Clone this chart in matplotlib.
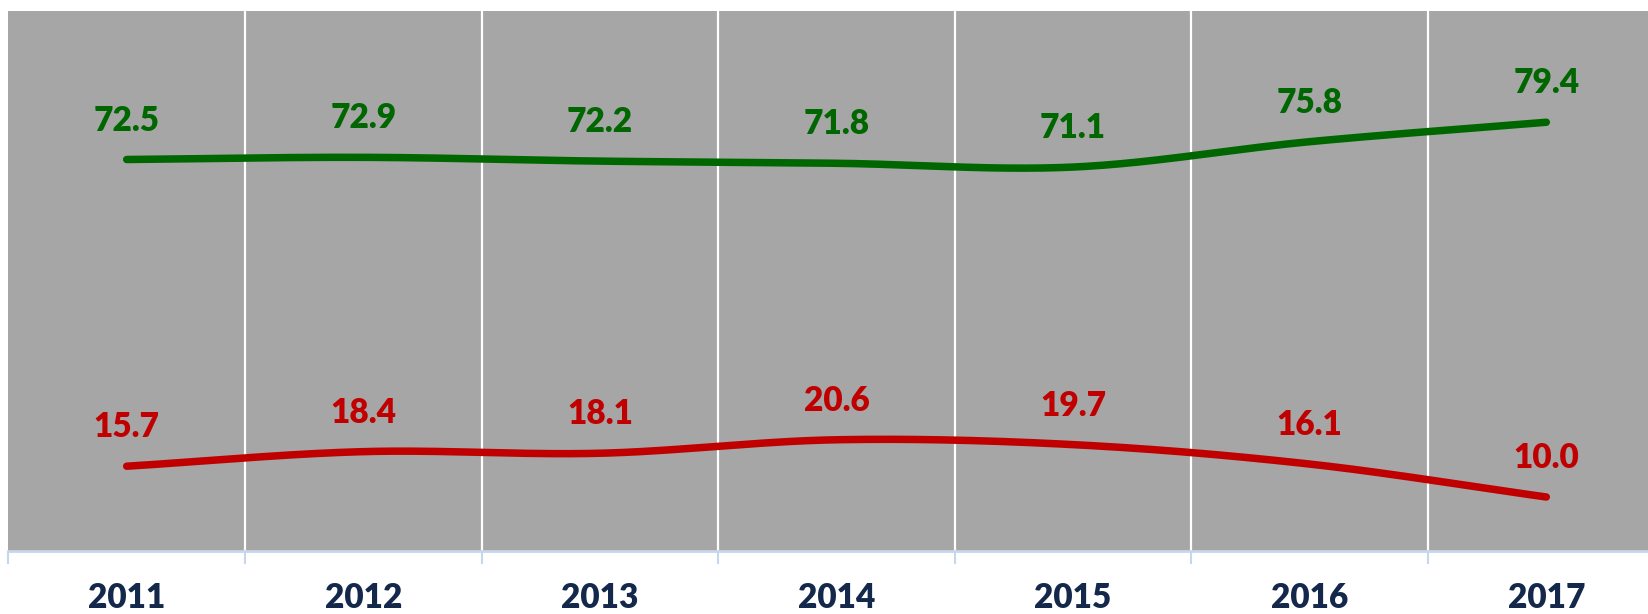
import numpy as np
import matplotlib
matplotlib.use("Agg")
import matplotlib.pyplot as plt
import matplotlib.transforms as mtrans

years = ["2011", "2012", "2013", "2014", "2015", "2016", "2017"]
green_vals = [72.5, 72.9, 72.2, 71.8, 71.1, 75.8, 79.4]
red_vals = [15.7, 18.4, 18.1, 20.6, 19.7, 16.1, 10.0]

GREEN = "#006600"
RED = "#c00000"
GRAY = "#a6a6a6"
NAVY = "#14284b"
AXBLUE = "#c6d6ec"

W, H = 1648, 614
fig = plt.figure(figsize=(W / 100, H / 100), dpi=100)
fig.patch.set_facecolor("white")

left_px, top_px, bottom_px = 8.4, 11, 551
cat_w = 236.6
ax_w = cat_w * 7
ax = fig.add_axes([left_px / W, (H - bottom_px) / H, ax_w / W, (bottom_px - top_px) / H])
ax.set_facecolor(GRAY)
ax.set_xlim(-0.5, 6.5)
ax.set_ylim(0, 100)


def catmull(xs, ys, n=40):
    xs = np.asarray(xs, float)
    ys = np.asarray(ys, float)
    px = np.concatenate([[2 * xs[0] - xs[1]], xs, [2 * xs[-1] - xs[-2]]])
    py = np.concatenate([[2 * ys[0] - ys[1]], ys, [2 * ys[-1] - ys[-2]]])
    ox, oy = [], []
    t = np.linspace(0, 1, n)
    for i in range(1, len(px) - 2):
        p0, p1, p2, p3 = [np.array([px[j], py[j]]) for j in (i - 1, i, i + 1, i + 2)]
        tt = t[:, None]
        pts = 0.5 * ((2 * p1) + (-p0 + p2) * tt + (2 * p0 - 5 * p1 + 4 * p2 - p3) * tt ** 2
                     + (-p0 + 3 * p1 - 3 * p2 + p3) * tt ** 3)
        if i > 1:
            pts = pts[1:]
        ox.extend(pts[:, 0])
        oy.extend(pts[:, 1])
    return np.array(ox), np.array(oy)


x = np.arange(len(years))
for b in np.arange(0.5, 6.5, 1.0):
    ax.axvline(b, color="white", lw=1.6, zorder=1)

for vals, col in ((green_vals, GREEN), (red_vals, RED)):
    sx, sy = catmull(x, vals)
    ax.plot(sx, sy, color=col, lw=5.4, solid_capstyle="round", solid_joinstyle="round", zorder=3)
    for xi, v in zip(x, vals):
        ax.annotate(f"{v:.1f}", (xi, v), xytext=(0, 28), textcoords="offset points",
                    ha="center", va="center", color=col, fontsize=24,
                    fontweight="heavy", family="Lato", zorder=4)

for s in ("top", "right", "left"):
    ax.spines[s].set_visible(False)
ax.spines["bottom"].set_color(AXBLUE)
ax.spines["bottom"].set_linewidth(2)
ax.set_yticks([])
ax.set_xticks(np.arange(-0.5, 7.0, 1.0))
ax.tick_params(axis="x", length=9, width=1.5, color=AXBLUE, labelbottom=False)

tr = mtrans.blended_transform_factory(ax.transData, fig.transFigure)
for xi, yr in zip(x, years):
    ax.text(xi, (H - 598) / H, yr, transform=tr, ha="center", va="center",
            fontsize=24, fontweight="heavy", family="Lato", color=NAVY, clip_on=False)

fig.savefig("out.png", dpi=100, facecolor="white")
